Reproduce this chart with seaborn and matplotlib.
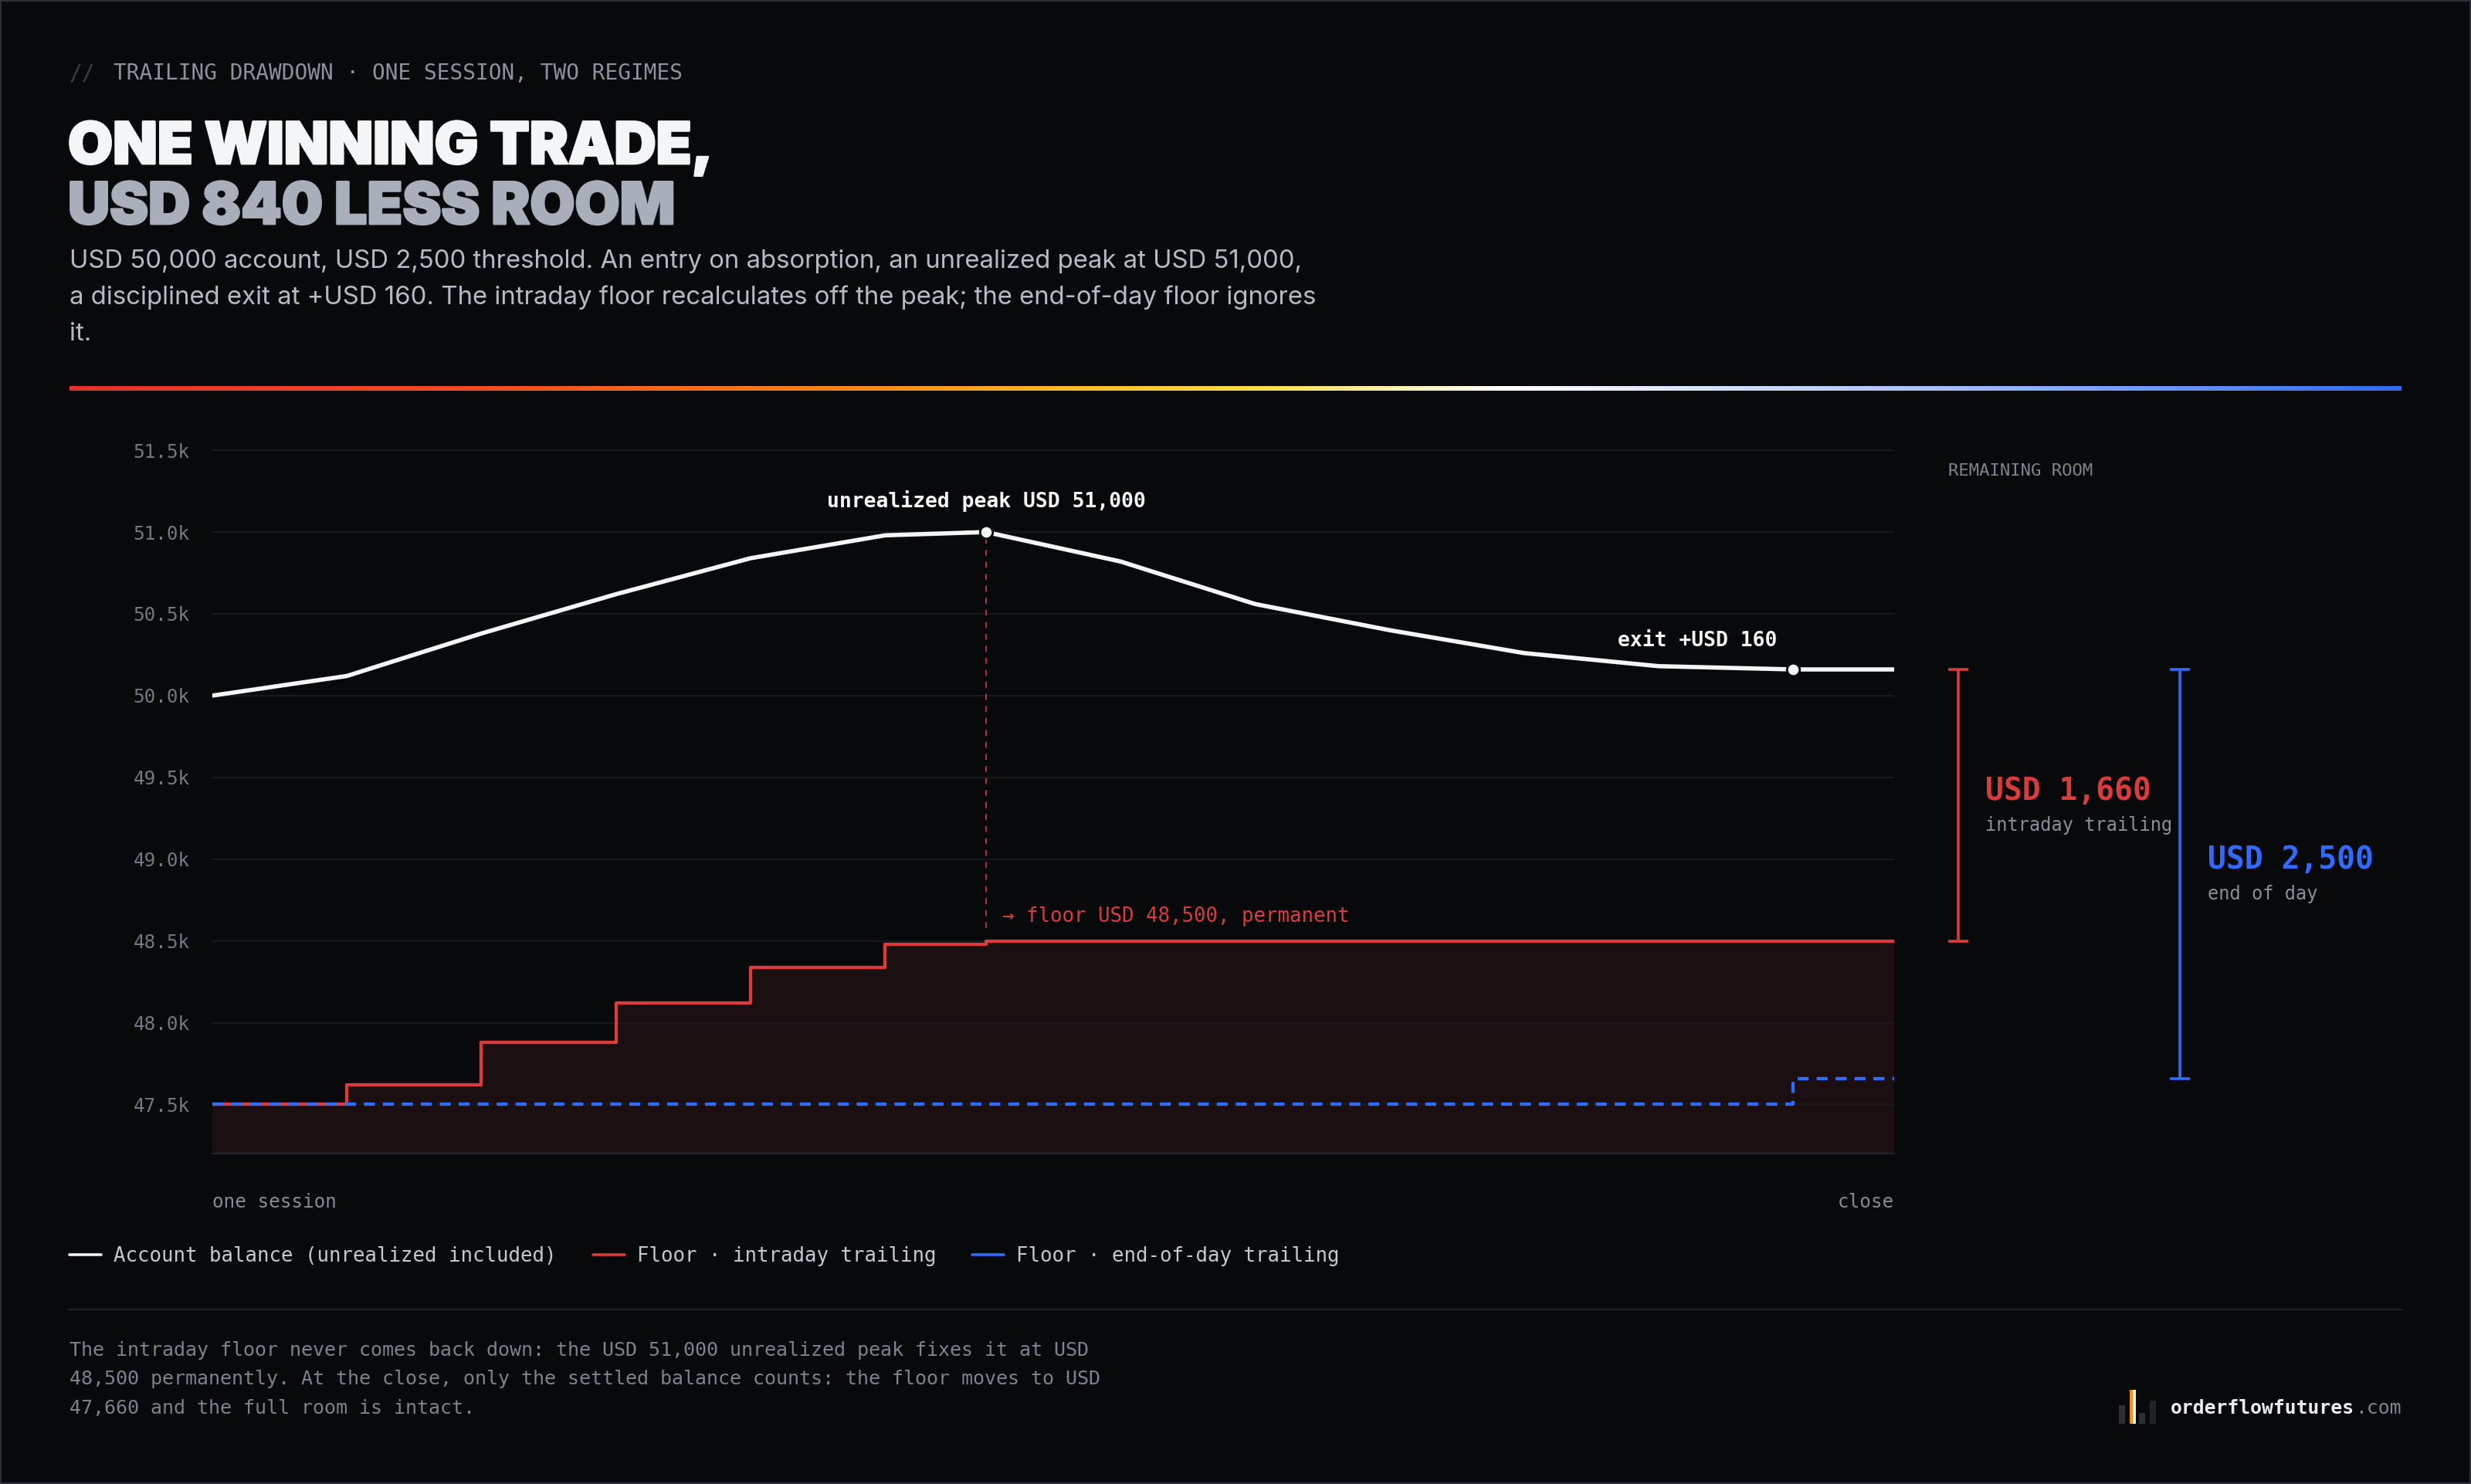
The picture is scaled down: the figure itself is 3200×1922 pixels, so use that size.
import numpy as np
import pandas as pd
import matplotlib
matplotlib.use("Agg")
import matplotlib.pyplot as plt
import seaborn as sns
from matplotlib import font_manager as fm
from matplotlib.lines import Line2D
from matplotlib.patches import Rectangle
from matplotlib.colors import LinearSegmentedColormap
import matplotlib.patheffects as pe

# ---------------- data ----------------
session_time = [0, 8, 16, 24, 32, 40, 46, 54, 62, 70, 78, 86, 94, 100]
account_balance = [50000, 50120, 50380, 50620, 50840, 50980, 51000,
                   50820, 50560, 50400, 50260, 50180, 50160, 50160]
floor_intraday = [47500, 47620, 47880, 48120, 48340, 48480, 48500,
                  48500, 48500, 48500, 48500, 48500, 48500, 48500]
floor_eod = [47500, 47500, 47500, 47500, 47500, 47500, 47500,
             47500, 47500, 47500, 47500, 47500, 47660, 47660]
peak_idx = 6
exit_idx = 12
y_ticks = [47500, 48000, 48500, 49000, 49500, 50000, 50500, 51000, 51500]
y_tick_labels = ["47.5k", "48.0k", "48.5k", "49.0k", "49.5k",
                 "50.0k", "50.5k", "51.0k", "51.5k"]
x_end_labels = ["one session", "close"]
legend_labels = ["Account balance (unrealized included)",
                 "Floor \u00b7 intraday trailing",
                 "Floor \u00b7 end-of-day trailing"]

df = pd.DataFrame({"t": session_time, "balance": account_balance,
                   "floor_intraday": floor_intraday, "floor_eod": floor_eod})

# ---------------- style ----------------
BG = "#08090b"
WHITE = "#f4f5f7"
RED = "#dc3b3b"
BLUE = "#2f6bff"
FILL = "#1c0f11"
GRID = "#1b1d23"
W, H = 3200, 1922

sns.set_theme(style="dark", rc={
    "axes.facecolor": BG, "figure.facecolor": BG, "savefig.facecolor": BG,
    "axes.edgecolor": GRID, "text.color": WHITE,
})
names = {f.name for f in fm.fontManager.ttflist}
MONO = "DejaVu Sans Mono"
SANS = "Inter" if "Inter" in names else "DejaVu Sans"
TITLE_FAM, TITLE_SIZE, TITLE_W = SANS, 54, "black"
plt.rcParams["font.family"] = [MONO, "DejaVu Sans"]

fig = plt.figure(figsize=(W / 100, H / 100), dpi=100, facecolor=BG)


def ftext(x, y, s, **kw):
    return fig.text(x / W, 1 - y / H, s, **kw)


YMIN, YMAX = 47200, 51600
ax_rect = [275 / W, 1 - 1494 / H, (2453 - 275) / W, (1494 - 562) / H]
ax = fig.add_axes(ax_rect)
ax.set_facecolor(BG)

# fill under intraday floor
ax.fill_between(df["t"], df["floor_intraday"], YMIN, step="post",
                color=FILL, lw=0, zorder=0.3)

sns.lineplot(data=df, x="t", y="floor_intraday", drawstyle="steps-post",
             color=RED, lw=3.1, ax=ax, legend=False, zorder=3)
sns.lineplot(data=df, x="t", y="floor_eod", drawstyle="steps-post",
             color=BLUE, lw=3.1, ax=ax, legend=False, zorder=3.5,
             linestyle=(0, (3.3, 2.4)))
sns.lineplot(data=df, x="t", y="balance", color=WHITE, lw=4.0,
             ax=ax, legend=False, zorder=4)

# peak dashed guide
ax.vlines(session_time[peak_idx], floor_intraday[peak_idx] + 80,
          account_balance[peak_idx], color=RED, lw=1.4, alpha=0.85,
          linestyles=[(0, (4, 4))], zorder=2)

sns.scatterplot(x=[session_time[peak_idx], session_time[exit_idx]],
                y=[account_balance[peak_idx], account_balance[exit_idx]],
                s=140, color=WHITE, edgecolor=BG, linewidth=2, ax=ax,
                zorder=6, legend=False)

ax.annotate(f"unrealized peak USD {account_balance[peak_idx]:,}",
            xy=(session_time[peak_idx], account_balance[peak_idx]),
            xytext=(0, 29), textcoords="offset points", ha="center",
            va="center", family=MONO, weight="bold", size=19, color=WHITE)
ax.annotate(f"exit +USD {account_balance[exit_idx] - account_balance[0]:,}",
            xy=(session_time[exit_idx], account_balance[exit_idx]),
            xytext=(-15, 27), textcoords="offset points", ha="right",
            va="center", family=MONO, weight="bold", size=19, color=WHITE)
ax.annotate(f"\u2192 floor USD {floor_intraday[peak_idx]:,}, permanent",
            xy=(session_time[peak_idx], floor_intraday[peak_idx]),
            xytext=(15, 23), textcoords="offset points", ha="left",
            va="center", family=MONO, size=18.5, color=RED)

ax.set_xlim(session_time[0], session_time[-1])
ax.set_ylim(YMIN, YMAX)
ax.set_xticks([])
ax.set_yticks(y_ticks)
ax.set_yticklabels(y_tick_labels, family=MONO, size=17.5, color="#737a85")
ax.tick_params(axis="y", length=0, pad=21)
ax.set_xlabel("")
ax.set_ylabel("")
ax.grid(True, axis="y", color=GRID, lw=1.2)
ax.set_axisbelow(True)
for s in ["top", "left", "right"]:
    ax.spines[s].set_visible(False)
ax.spines["bottom"].set_color("#24272d")
ax.spines["bottom"].set_linewidth(1.3)

ax.annotate(x_end_labels[0], xy=(0, 0), xycoords="axes fraction",
            xytext=(0, -45), textcoords="offset points", ha="left",
            va="center", family=MONO, size=17.5, color="#858c97")
ax.annotate(x_end_labels[1], xy=(1, 0), xycoords="axes fraction",
            xytext=(0, -45), textcoords="offset points", ha="right",
            va="center", family=MONO, size=17.5, color="#858c97")

# ---------------- right panel: remaining room ----------------
ax2 = fig.add_axes([2453 / W, ax_rect[1], 657 / W, ax_rect[3]], sharey=ax)
ax2.set_facecolor("none")
ax2.set_xlim(0, 1)
ax2.grid(False)
ax2.tick_params(left=False, labelleft=False, bottom=False, labelbottom=False)
for s in ax2.spines.values():
    s.set_visible(False)

top = account_balance[exit_idx]
rooms = [(0.126, 0.18, floor_intraday[-1], RED, "intraday trailing", 0.449),
         (0.563, 0.618, floor_eod[-1], BLUE, "end of day", 0.466)]
for bx, tx, bottom, col, sub, frac in rooms:
    ax2.vlines(bx, bottom, top, color=col, lw=2.6)
    ax2.hlines([bottom, top], bx - 0.02, bx + 0.02, color=col, lw=2.6)
    room = top - bottom
    ly = top - frac * room
    ax2.text(tx, ly, f"USD {room:,}", color=col, family=MONO, size=28.5,
             weight="bold", ha="left", va="center")
    ax2.text(tx, ly - 210, sub, color="#8a909a", family=MONO, size=17,
             ha="left", va="center")
ax2.text(0.107, 51375, "REMAINING ROOM", color="#7d848f", family=MONO,
         size=16, ha="left", va="center")

# ---------------- header ----------------
ftext(90, 95, "//", family=MONO, size=20, color="#3b4048", va="center")
ftext(147, 95, "TRAILING DRAWDOWN \u00b7 ONE SESSION, TWO REGIMES",
      family=MONO, size=20, color="#8b929d", va="center")
ftext(88, 212, "ONE WINNING TRADE,", family=TITLE_FAM, size=TITLE_SIZE,
      weight=TITLE_W, color=WHITE, va="baseline",
      path_effects=[pe.withStroke(linewidth=2, foreground=WHITE)])
ftext(88, 290, "USD 840 LESS ROOM", family=TITLE_FAM, size=TITLE_SIZE,
      weight=TITLE_W, color="#a8afba", va="baseline",
      path_effects=[pe.withStroke(linewidth=2, foreground="#a8afba")])
sub_lines = ["USD 50,000 account, USD 2,500 threshold. An entry on absorption, an unrealized peak at USD 51,000,",
             "a disciplined exit at +USD 160. The intraday floor recalculates off the peak; the end-of-day floor ignores",
             "it."]
for i, line in enumerate(sub_lines):
    ftext(90, 347 + 47 * i, line, family=[SANS, "DejaVu Sans"], size=23.7,
          color="#b5bbc5", va="baseline")

# gradient rule
cmap = LinearSegmentedColormap.from_list("rule", [
    (0.0, "#e5302e"), (0.18, "#ff4d22"), (0.34, "#ff8a14"), (0.44, "#ffc02c"),
    (0.51, "#ffde48"), (0.616, "#ffffff"), (0.80, "#a8c0ff"), (1.0, "#2f6bff")])
gax = fig.add_axes([90 / W, 1 - 506 / H, 3020 / W, 6 / H])
gax.imshow(np.linspace(0, 1, 1024)[None, :], aspect="auto", cmap=cmap)
gax.axis("off")

# ---------------- legend ----------------
handles = [Line2D([0], [0], color=WHITE, lw=2.6),
           Line2D([0], [0], color=RED, lw=2.6),
           Line2D([0], [0], color=BLUE, lw=2.6)]
fig.legend(handles, legend_labels, loc="center left",
           bbox_to_anchor=(90 / W, 1 - 1627 / H), frameon=False, ncol=3,
           handlelength=1.6, handletextpad=0.62, columnspacing=1.83,
           borderpad=0, borderaxespad=0,
           prop={"family": MONO, "size": 18.5}, labelcolor="#c3c8d0")

# separator
fig.add_artist(Line2D([90 / W, 3110 / W], [1 - 1696 / H, 1 - 1696 / H],
                      transform=fig.transFigure, color="#1e2127", lw=1.6))

foot = ["The intraday floor never comes back down: the USD 51,000 unrealized peak fixes it at USD",
        "48,500 permanently. At the close, only the settled balance counts: the floor moves to USD",
        "47,660 and the full room is intact."]
for i, line in enumerate(foot):
    ftext(90, 1749 + 37.5 * i, line, family=MONO, size=18, color="#7c838e",
          va="center")

# logo
for (x0, x1, y0, y1, c) in [(2744, 2752, 1820, 1844, "#2b3038"),
                            (2758, 2762, 1800, 1844, "#ff8a1a"),
                            (2762, 2766, 1800, 1844, "#fff1c4"),
                            (2770, 2778, 1830, 1844, "#2b3038"),
                            (2784, 2792, 1814, 1844, "#1f232a")]:
    fig.add_artist(Rectangle((x0 / W, 1 - y1 / H), (x1 - x0) / W, (y1 - y0) / H,
                             transform=fig.transFigure, color=c, lw=0))
ftext(2811, 1824, "orderflowfutures", family=MONO, size=17.8,
      weight="bold", color="#e9ecf0", va="center")
ftext(3050, 1824, ".com", family=MONO, size=17.8, color="#7e8590",
      va="center")

# frame border
fig.add_artist(Rectangle((0, 0), 1, 1, transform=fig.transFigure,
                         fill=False, edgecolor="#2a2e35", lw=3))

fig.savefig("out.png", dpi=100, facecolor=BG)
